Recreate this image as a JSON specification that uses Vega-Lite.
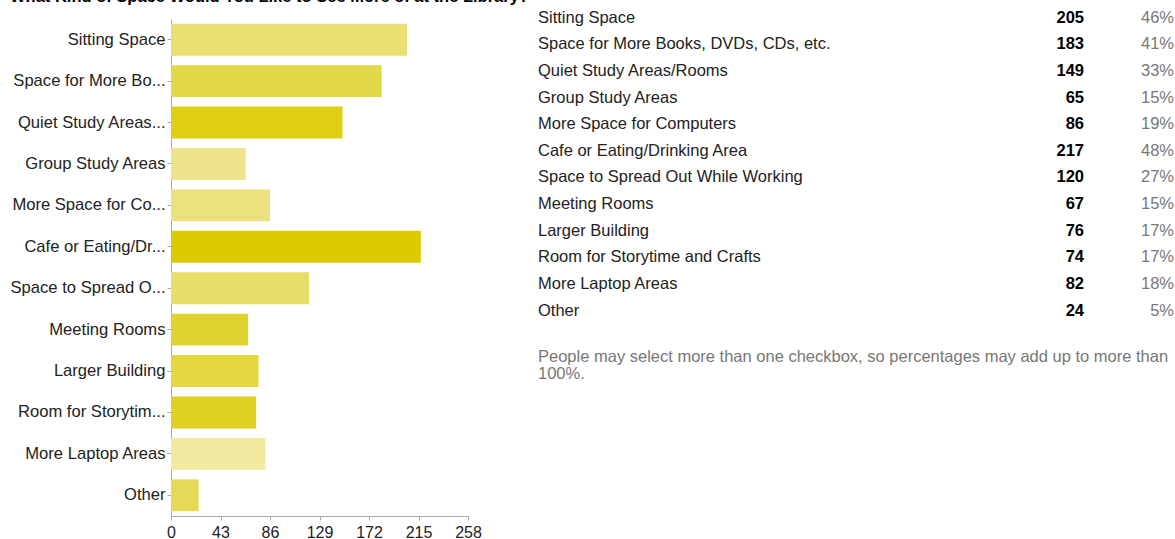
{
  "$schema": "https://vega.github.io/schema/vega-lite/v6.json",
  "padding": {"top": -11, "left": 10, "right": 0, "bottom": 0},
  "background": "#ffffff",
  "title": {
    "text": "What Kind of Space Would You Like to See More of at the Library?",
    "anchor": "start",
    "fontSize": 16.5,
    "fontWeight": "bold",
    "color": "#000000",
    "offset": 4
  },
  "datasets": {
    "survey": [
      {"rank": 1, "label": "Sitting Space", "short": "Sitting Space", "count": 205, "pct": 0.46},
      {"rank": 2, "label": "Space for More Books, DVDs, CDs, etc.", "short": "Space for More Bo...", "count": 183, "pct": 0.41},
      {"rank": 3, "label": "Quiet Study Areas/Rooms", "short": "Quiet Study Areas...", "count": 149, "pct": 0.33},
      {"rank": 4, "label": "Group Study Areas", "short": "Group Study Areas", "count": 65, "pct": 0.15},
      {"rank": 5, "label": "More Space for Computers", "short": "More Space for Co...", "count": 86, "pct": 0.19},
      {"rank": 6, "label": "Cafe or Eating/Drinking Area", "short": "Cafe or Eating/Dr...", "count": 217, "pct": 0.48},
      {"rank": 7, "label": "Space to Spread Out While Working", "short": "Space to Spread O...", "count": 120, "pct": 0.27},
      {"rank": 8, "label": "Meeting Rooms", "short": "Meeting Rooms", "count": 67, "pct": 0.15},
      {"rank": 9, "label": "Larger Building", "short": "Larger Building", "count": 76, "pct": 0.17},
      {"rank": 10, "label": "Room for Storytime and Crafts", "short": "Room for Storytim...", "count": 74, "pct": 0.17},
      {"rank": 11, "label": "More Laptop Areas", "short": "More Laptop Areas", "count": 82, "pct": 0.18},
      {"rank": 12, "label": "Other", "short": "Other", "count": 24, "pct": 0.05}
    ],
    "note": [
      {"line": 13.43, "note": "People may select more than one checkbox, so percentages may add up to more than\n100%."}
    ]
  },
  "bounds": "flush",
  "spacing": 70,
  "hconcat": [
    {
      "data": {"name": "survey"},
      "width": 297,
      "height": 497,
      "mark": {"type": "bar"},
      "encoding": {
        "y": {
          "field": "short",
          "type": "nominal",
          "sort": null,
          "scale": {"paddingInner": 0.23, "paddingOuter": 0.115},
          "axis": {
            "title": null,
            "labelFontSize": 16.6,
            "labelColor": "#222222",
            "labelLimit": 0,
            "labelPadding": 2,
            "tickSize": 4,
            "tickColor": "#aaaaaa",
            "domainColor": "#aaaaaa"
          }
        },
        "x": {
          "field": "count",
          "type": "quantitative",
          "scale": {"domain": [0, 258], "nice": false},
          "axis": {
            "title": null,
            "grid": false,
            "values": [0, 43, 86, 129, 172, 215, 258],
            "labelFontSize": 16,
            "labelColor": "#222222",
            "labelFlush": false,
            "labelOverlap": false,
            "labelPadding": 4,
            "tickSize": 4,
            "tickColor": "#aaaaaa",
            "domainColor": "#aaaaaa"
          }
        },
        "color": {
          "field": "short",
          "type": "nominal",
          "legend": null,
          "scale": {
            "domain": ["Sitting Space", "Space for More Bo...", "Quiet Study Areas...", "Group Study Areas", "More Space for Co...", "Cafe or Eating/Dr...", "Space to Spread O...", "Meeting Rooms", "Larger Building", "Room for Storytim...", "More Laptop Areas", "Other"],
            "range": ["#E9DF73", "#E3D74A", "#DECE14", "#EDE58C", "#EBE17E", "#DCCB00", "#E7DD69", "#E1D32F", "#E3D63E", "#DFD022", "#F0E99E", "#E5D958"]
          }
        }
      }
    },
    {
      "width": 637,
      "height": 497,
      "resolve": {"scale": {"x": "shared", "y": "shared"}},
      "layer": [
        {
          "data": {"name": "survey"},
          "mark": {"type": "text", "align": "left", "baseline": "middle", "fontSize": 16.5, "color": "#222222"},
          "encoding": {
            "y": {"field": "rank", "type": "quantitative", "scale": {"domain": [1.049, 19.72], "reverse": true, "nice": false, "zero": false}, "axis": null},
            "x": {"datum": 0, "type": "quantitative", "scale": {"domain": [0, 637], "nice": false}, "axis": null},
            "text": {"field": "label"}
          }
        },
        {
          "data": {"name": "survey"},
          "mark": {"type": "text", "align": "right", "baseline": "middle", "fontSize": 16.5, "fontWeight": "bold", "color": "#000000"},
          "encoding": {
            "y": {"field": "rank", "type": "quantitative"},
            "x": {"datum": 546, "type": "quantitative"},
            "text": {"field": "count", "type": "quantitative"}
          }
        },
        {
          "data": {"name": "survey"},
          "mark": {"type": "text", "align": "right", "baseline": "middle", "fontSize": 16.5, "color": "#777777"},
          "encoding": {
            "y": {"field": "rank", "type": "quantitative"},
            "x": {"datum": 636, "type": "quantitative"},
            "text": {"field": "pct", "type": "quantitative", "format": ".0%"}
          }
        },
        {
          "data": {"name": "note"},
          "mark": {"type": "text", "align": "left", "baseline": "top", "fontSize": 16.5, "color": "#777777", "lineBreak": "\n", "lineHeight": 17},
          "encoding": {
            "y": {"field": "line", "type": "quantitative"},
            "x": {"datum": 0, "type": "quantitative"},
            "text": {"field": "note"}
          }
        }
      ]
    }
  ],
  "config": {
    "font": "Liberation Sans",
    "view": {"stroke": null}
  }
}
